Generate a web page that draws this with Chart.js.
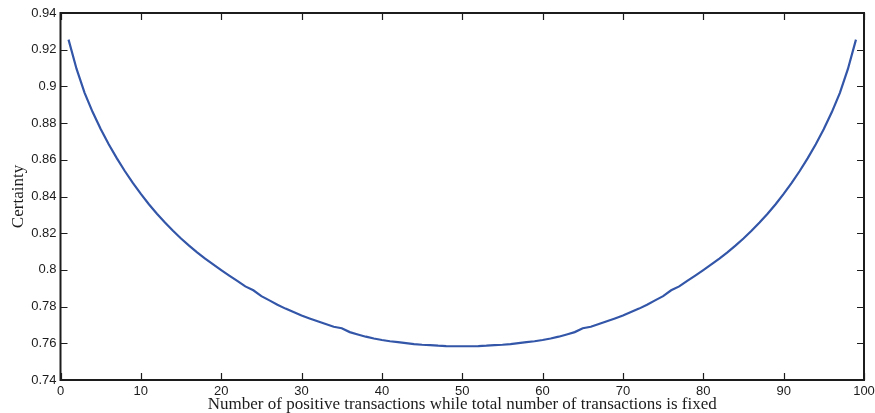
<!DOCTYPE html>
<html>
<head>
<meta charset="utf-8">
<script src="https://cdn.jsdelivr.net/npm/chart.js@4"></script>
<style>
    html, body { margin: 0; padding: 0; background: #fff; }
    #wrap { width: 875px; height: 413px; position: relative; }
</style>
</head>
<body>
<div id="wrap"><canvas id="certaintyChart"></canvas></div>
<script>
// Number of positive transactions (1..99) and the certainty at each
const positives = Array.from({ length: 99 }, (_, i) => i + 1);
const certainty = [
    0.9255, 0.9095, 0.8965, 0.8860, 0.8768, 0.8685, 0.8609, 0.8539, 0.8474, 0.8414,
    0.8358, 0.8306, 0.8258, 0.8213, 0.8171, 0.8132, 0.8096, 0.8062, 0.8030, 0.7999,
    0.7969, 0.7940, 0.7910, 0.7889, 0.7857, 0.7834, 0.7810, 0.7789, 0.7770, 0.7751,
    0.7735, 0.7720, 0.7705, 0.7690, 0.7682, 0.7661, 0.7648, 0.7636, 0.7626, 0.7618,
    0.7611, 0.7606, 0.7601, 0.7596, 0.7592, 0.7590, 0.7587, 0.7585, 0.7584, 0.7584,
    0.7584, 0.7585, 0.7587, 0.7590, 0.7592, 0.7596, 0.7601, 0.7606, 0.7611, 0.7618,
    0.7626, 0.7636, 0.7648, 0.7661, 0.7682, 0.7690, 0.7705, 0.7720, 0.7735, 0.7751,
    0.7770, 0.7789, 0.7810, 0.7834, 0.7857, 0.7889, 0.7910, 0.7940, 0.7969, 0.7999,
    0.8030, 0.8062, 0.8096, 0.8132, 0.8171, 0.8213, 0.8258, 0.8306, 0.8358, 0.8414,
    0.8474, 0.8539, 0.8609, 0.8685, 0.8768, 0.8860, 0.8965, 0.9095, 0.9255
];

// Axis ranges / tick steps
const xRange = [0, 100];
const xStep = 10;
const yRange = [0.74, 0.94];
const yStep = 0.02;

const axisColor = '#1c1c1c';
const lineColor = '#3356a8';

// Box around the plot with inward tick marks on every side
const boxTicks = {
    id: 'boxTicks',
    afterDraw(chart) {
        const { ctx, chartArea: a, scales: { x, y } } = chart;
        const len = 7;
        ctx.save();
        ctx.strokeStyle = axisColor;
        ctx.lineWidth = 1.2;
        ctx.beginPath();
        x.ticks.forEach(t => {
            const px = Math.round(x.getPixelForValue(t.value)) + 0.5;
            ctx.moveTo(px, a.bottom); ctx.lineTo(px, a.bottom - len);
            ctx.moveTo(px, a.top); ctx.lineTo(px, a.top + len);
        });
        y.ticks.forEach(t => {
            const py = Math.round(y.getPixelForValue(t.value)) + 0.5;
            ctx.moveTo(a.left, py); ctx.lineTo(a.left + len, py);
            ctx.moveTo(a.right, py); ctx.lineTo(a.right - len, py);
        });
        ctx.stroke();
        ctx.lineWidth = 2;
        ctx.strokeRect(a.left, a.top, a.right - a.left, a.bottom - a.top);
        ctx.restore();
    }
};

const tickFont = { family: '"Liberation Sans", Arial, sans-serif', size: 13 };
const titleFont = { family: '"Liberation Serif", "Times New Roman", serif', size: 17, lineHeight: 1 };

new Chart(document.getElementById('certaintyChart'), {
    type: 'line',
    data: {
        datasets: [{
            data: positives.map((p, i) => ({ x: p, y: certainty[i] })),
            borderColor: lineColor,
            borderWidth: 2.2,
            pointRadius: 0,
            tension: 0,
            fill: false
        }]
    },
    options: {
        responsive: true,
        maintainAspectRatio: false,
        animation: false,
        layout: { padding: { top: 13, right: 11, left: 0, bottom: 0 } },
        plugins: { legend: { display: false }, tooltip: { enabled: false } },
        scales: {
            x: {
                type: 'linear',
                min: xRange[0],
                max: xRange[1],
                grid: { display: false, drawTicks: false },
                border: { display: false },
                ticks: { stepSize: xStep, color: axisColor, font: tickFont, padding: 4, maxRotation: 0 },
                title: {
                    display: true,
                    text: 'Number of positive transactions while total number of transactions is fixed',
                    color: axisColor,
                    font: titleFont,
                    padding: { top: 0, bottom: 0 }
                },
                afterFit(scale) {
                    scale.height = 33;
                    // let the "100" label hang into the outer margin
                    scale.paddingRight = 0;
                    scale.paddingLeft = 0;
                }
            },
            y: {
                min: yRange[0],
                max: yRange[1],
                grid: { display: false, drawTicks: false },
                border: { display: false },
                ticks: {
                    stepSize: yStep,
                    color: axisColor,
                    font: tickFont,
                    padding: 4,
                    callback: v => String(Number(v.toFixed(2)))
                },
                title: {
                    display: true,
                    text: 'Certainty',
                    color: axisColor,
                    font: titleFont,
                    padding: { top: 10, bottom: 0 }
                },
                afterFit(scale) {
                    scale.width = 60.5;
                    scale.paddingTop = 0;
                    scale.paddingBottom = 0;
                }
            }
        }
    },
    plugins: [boxTicks]
});
</script>
</body>
</html>
